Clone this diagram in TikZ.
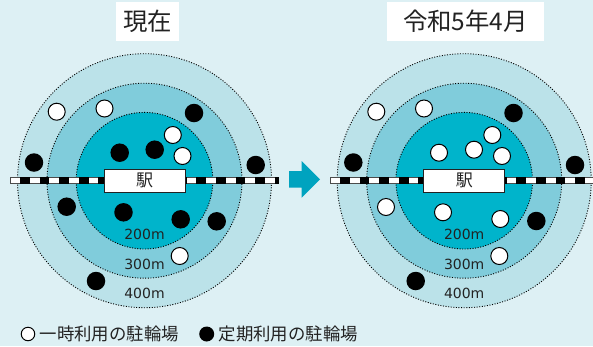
\documentclass[tikz,border=0pt]{standalone}
\usepackage{fontspec}
\setmainfont{Noto Sans CJK JP}
\newfontfamily\latinnum{DejaVu Sans}
\definecolor{bgc}{HTML}{DDF0F4}
\definecolor{ringa}{HTML}{BBE2E9}
\definecolor{ringb}{HTML}{80CCDB}
\definecolor{ringc}{HTML}{00B4CB}
\definecolor{arrowc}{HTML}{00A3BF}
\definecolor{txt}{HTML}{222222}
\tikzset{
  ring/.style={circle,draw=black,line width=.9bp,dash pattern=on 1bp off 1.6bp,inner sep=0,minimum size=#1},
  wdot/.style={circle,draw=black,fill=white,line width=1bp,inner sep=0,minimum size=17bp},
  bdot/.style={circle,fill=black,inner sep=0,minimum size=18.5bp},
  titlebox/.style={fill=white,inner sep=0,text=txt,font=\fontsize{24.4bp}{24.4bp}\selectfont},
  dist/.style={text=txt,inner sep=0,font=\latinnum\fontsize{14bp}{14bp}\selectfont},
  legend/.style={text=txt,inner sep=0,anchor=west,font=\fontsize{17.4bp}{17.4bp}\selectfont},
  stn/.style={draw=txt,fill=white,line width=1bp,inner sep=0,text=txt,minimum width=81bp,minimum height=23bp,font=\fontsize{17bp}{17bp}\selectfont}
}
\newcommand{\trackline}[2]{%
  \fill[black!70] (#1,177) rectangle (#2,184.4);
  \fill[white] (#1+1,178.2) rectangle (#2-1,183.2);
  \draw[black,line width=7.4bp,dash pattern=on 9.8bp off 9.8bp] (#1+10,180.7) -- (#2,180.7);
}
\newcommand{\rings}[2]{%
  \node[ring=254bp,fill=ringa] (#2o) at (#1,180.7) {};
  \node[ring=195bp,fill=ringb] (#2m) at (#1,180.7) {};
  \node[ring=136.6bp,fill=ringc] (#2i) at (#1,180.7) {};
  \node[dist] (#2d2) at (#1,234.3) {200m};
  \node[dist] (#2d3) at (#1,264.3) {300m};
  \node[dist] (#2d4) at (#1,293.8) {400m};
}
\begin{document}
\begin{tikzpicture}[x=1bp,y=-1bp]
\fill[bgc] (0,0) rectangle (593,346);
\useasboundingbox (0,0) rectangle (593,346);
% left
\rings{144.5}{L}
\trackline{10}{279}
\node[stn] (Ls) at (144.7,180.7) {駅};
\node[titlebox,minimum width=63bp,minimum height=39bp] (Lt) at (147.5,21.5) {現在};
\node[wdot] (L1) at (56.7,111.7) {};
\node[wdot] (L2) at (104.5,108.5) {};
\node[wdot] (L3) at (172.8,135) {};
\node[wdot] (L4) at (182.5,156) {};
\node[wdot] (L5) at (179.7,256) {};
\node[bdot] (L6) at (34,162.5) {};
\node[bdot] (L7) at (194,113) {};
\node[bdot] (L8) at (119.7,152.7) {};
\node[bdot] (L9) at (154.7,149.7) {};
\node[bdot] (L10) at (255.7,165) {};
\node[bdot] (L11) at (66.7,206.7) {};
\node[bdot] (L12) at (123.5,212.3) {};
\node[bdot] (L13) at (180.7,219.3) {};
\node[bdot] (L14) at (216.7,221.3) {};
\node[bdot] (L15) at (96,281) {};
% right
\rings{464.2}{R}
\trackline{330}{598}
\node[stn] (Rs) at (464.4,180.7) {駅};
\node[titlebox,minimum width=157bp,minimum height=39bp] (Rt) at (465.5,21.5) {令和5年4月};
\node[wdot] (R1) at (376.3,111.7) {};
\node[wdot] (R2) at (424,108.5) {};
\node[wdot] (R3) at (492.3,135) {};
\node[wdot] (R4) at (502,156) {};
\node[wdot] (R5) at (439,152.7) {};
\node[wdot] (R6) at (474,149.7) {};
\node[wdot] (R7) at (386,207) {};
\node[wdot] (R8) at (443,212.3) {};
\node[wdot] (R9) at (500.3,219) {};
\node[wdot] (R10) at (499.3,256) {};
\node[bdot] (R11) at (513.5,113) {};
\node[bdot] (R12) at (353.3,162.5) {};
\node[bdot] (R13) at (575,165) {};
\node[bdot] (R14) at (536.3,221) {};
\node[bdot] (R15) at (415.7,281) {};
% arrow
\fill[arrowc] (289,171) -- (301.7,171) -- (301.7,161) -- (320,179.3) -- (301.7,197.7) -- (301.7,187.7) -- (289,187.7) -- cycle;
% legend
\node[wdot,minimum size=13.5bp] (K1) at (28,334) {};
\node[legend] (K1t) at (39.5,333.8) {一時利用の駐輪場};
\node[bdot,minimum size=15bp] (K2) at (206.7,334) {};
\node[legend] (K2t) at (218.5,333.8) {定期利用の駐輪場};
\end{tikzpicture}
\end{document}
